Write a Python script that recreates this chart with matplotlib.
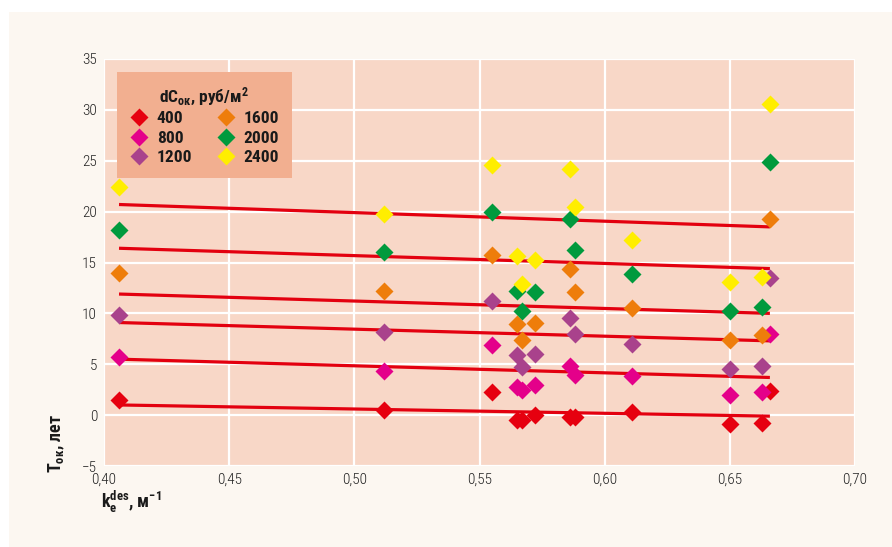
import numpy as np
import matplotlib
matplotlib.use("Agg")
import matplotlib.pyplot as plt
from matplotlib.patches import Rectangle
from matplotlib.ticker import FuncFormatter, MultipleLocator

FONT = "Roboto Condensed"
plt.rcParams["font.family"] = [FONT, "DejaVu Sans"]
plt.rcParams["mathtext.fontset"] = "custom"
plt.rcParams["mathtext.rm"] = FONT + ":bold"
plt.rcParams["mathtext.it"] = FONT + ":bold"
plt.rcParams["mathtext.bf"] = FONT + ":bold"

# Design coefficient k_e^des for each object
k_des = [0.406, 0.512, 0.555, 0.565, 0.567, 0.572, 0.586, 0.588, 0.611, 0.650, 0.663, 0.666]

# Payback period (years) for each cost increment dC, rub/m2
series_labels = ["400", "800", "1200", "1600", "2000", "2400"]
t_400 = [1.5, 0.5, 2.3, -0.5, -0.5, 0.0, -0.2, -0.2, 0.3, -0.9, -0.8, 2.4]
t_800 = [5.7, 4.3, 6.9, 2.8, 2.5, 3.0, 4.8, 3.9, 3.8, 2.0, 2.3, 8.0]
t_1200 = [9.8, 8.2, 11.2, 5.9, 4.7, 6.0, 9.5, 8.0, 7.0, 4.5, 4.8, 13.5]
t_1600 = [14.0, 12.2, 15.7, 9.0, 7.4, 9.1, 14.4, 12.1, 10.5, 7.4, 7.9, 19.3]
t_2000 = [18.2, 16.0, 20.0, 12.2, 10.2, 12.1, 19.3, 16.2, 13.9, 10.2, 10.6, 24.9]
t_2400 = [22.4, 19.8, 24.6, 15.6, 12.9, 15.2, 24.2, 20.5, 17.2, 13.1, 13.6, 30.6]

# Linear trend values at the ends of the k range
trend_x = [0.406, 0.666]
trend_start = [1.0, 5.5, 9.1, 11.9, 16.4, 20.7]
trend_end = [-0.1, 3.7, 7.3, 10.0, 14.4, 18.5]

colors = ["#E6000F", "#E4008A", "#A9428C", "#EE7D0B", "#009A3D", "#FFEE00"]
series = [t_400, t_800, t_1200, t_1600, t_2000, t_2400]

W, H = 892, 547
fig = plt.figure(figsize=(W / 100, H / 100), dpi=100)
fig.patch.set_facecolor("white")
fig.patches.append(Rectangle((9 / W, 0), 1 - 9 / W, 1 - 12 / H,
                             transform=fig.transFigure, facecolor="#FCF7F1",
                             edgecolor="none", zorder=-10))

ax = fig.add_axes([104 / W, (H - 466) / H, 751 / W, 407 / H])
ax.set_zorder(5)
ax.set_facecolor("#F8D7C7")
for s in ax.spines.values():
    s.set_visible(False)

ax.set_xlim(0.40, 0.70)
ax.set_ylim(-5, 35)
ax.xaxis.set_major_locator(MultipleLocator(0.05))
ax.yaxis.set_major_locator(MultipleLocator(5))
ax.xaxis.set_major_formatter(FuncFormatter(lambda v, p: f"{v:.2f}".replace(".", ",")))
ax.yaxis.set_major_formatter(FuncFormatter(lambda v, p: f"{v:.0f}".replace("-", "\u2212")))
ax.tick_params(length=0, labelsize=11, colors="#222222", pad=5)
for lbl in ax.get_xticklabels() + ax.get_yticklabels():
    lbl.set_fontweight(300)
ax.grid(True, color="white", linewidth=1.6)
ax.set_axisbelow(True)

# trend lines
for ys, ye in zip(trend_start, trend_end):
    ax.plot(trend_x, [ys, ye], color="#E3000F", linewidth=2.3, zorder=2,
            solid_capstyle="butt")

handles = []
for vals, c, lab in zip(series, colors, series_labels):
    h, = ax.plot(k_des, vals, linestyle="none", marker="D", markersize=9.5,
                 markerfacecolor=c, markeredgecolor="none", color=c,
                 label=lab, zorder=3)
    handles.append(h)

leg = ax.legend(handles=handles, ncol=2, loc="upper left",
                bbox_to_anchor=(0.017, 0.968), borderaxespad=0,
                title="dC$_{\\mathregular{ок}}$, руб/м$^{\\mathregular{2}}$",
                prop={"weight": "bold", "size": 12.5},
                title_fontproperties={"weight": "bold", "size": 12.5},
                frameon=True, fancybox=False, handletextpad=0.45,
                columnspacing=1.4, labelspacing=0.25, borderpad=0.75,
                handlelength=1.1, markerscale=0.95)
leg.get_frame().set_facecolor("#F2AF90")
leg.get_frame().set_edgecolor("none")
leg.get_frame().set_alpha(1)
leg.get_title().set_color("#1a1a1a")
for t in leg.get_texts():
    t.set_color("#1a1a1a")

fig.text(57 / W, 1 - 443 / H, "T$_{\\mathregular{ок}}$, лет", rotation=90,
         ha="center", va="center", fontsize=13, fontweight="bold", color="#1a1a1a")
fig.text(101 / W, 1 - 502 / H, "k$_{\\mathregular{e}}^{\\mathregular{des}}$, м$^{\\mathregular{-1}}$",
         ha="left", va="center", fontsize=13, fontweight="bold", color="#1a1a1a")

fig.savefig("out.png", dpi=100, facecolor=fig.get_facecolor())
